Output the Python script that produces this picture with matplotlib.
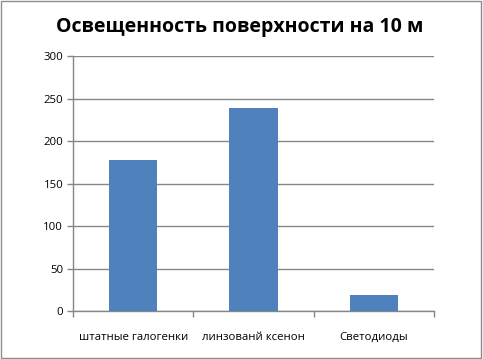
import matplotlib.pyplot as plt
from matplotlib.patches import Rectangle

plt.rcParams['font.family'] = ['Open Sans', 'DejaVu Sans']

categories = ["штатные галогенки", "линзованй ксенон", "Светодиоды"]
values = [178, 239, 19]
yticks = [0, 50, 100, 150, 200, 250, 300]

fig = plt.figure(figsize=(4.83, 3.59), dpi=100)
ax = fig.add_axes([0.151, 0.1337, 0.748, 0.7103])

pos = list(range(len(categories)))
ax.bar(pos, values, width=0.4, color="#4F81BD", zorder=3)

ax.set_xlim(-0.5, len(categories) - 0.5)
ax.set_ylim(0, 300)
ax.set_yticks(yticks)
ax.set_yticklabels([str(v) for v in yticks], fontsize=8.2)
ax.yaxis.grid(True, color="#868686", linewidth=1.0, zorder=0)

# category labels without ticks, ticks at boundaries
ax.set_xticks(pos)
ax.set_xticklabels(categories, fontsize=8.2)
ax.tick_params(axis='x', which='major', length=0, pad=15)
ax.set_xticks([-0.5, 0.5, 1.5, 2.5], minor=True)
ax.tick_params(axis='x', which='minor', length=4, color="#868686", width=1)
ax.tick_params(axis='y', length=4, color="#868686", width=1, pad=3)

for side in ['top', 'right']:
    ax.spines[side].set_visible(False)
for side in ['left', 'bottom']:
    ax.spines[side].set_color("#868686")
    ax.spines[side].set_linewidth(1.0)

fig.text(0.497, 0.925, "Освещенность поверхности на 10 м", ha='center', va='center',
         fontsize=14, fontweight='bold')

fig.patches.append(Rectangle((0.002, 0.003), 0.994, 0.994, transform=fig.transFigure,
                             fill=False, edgecolor="#8c8c8c", linewidth=1.0))

fig.savefig("out.png", dpi=100)
